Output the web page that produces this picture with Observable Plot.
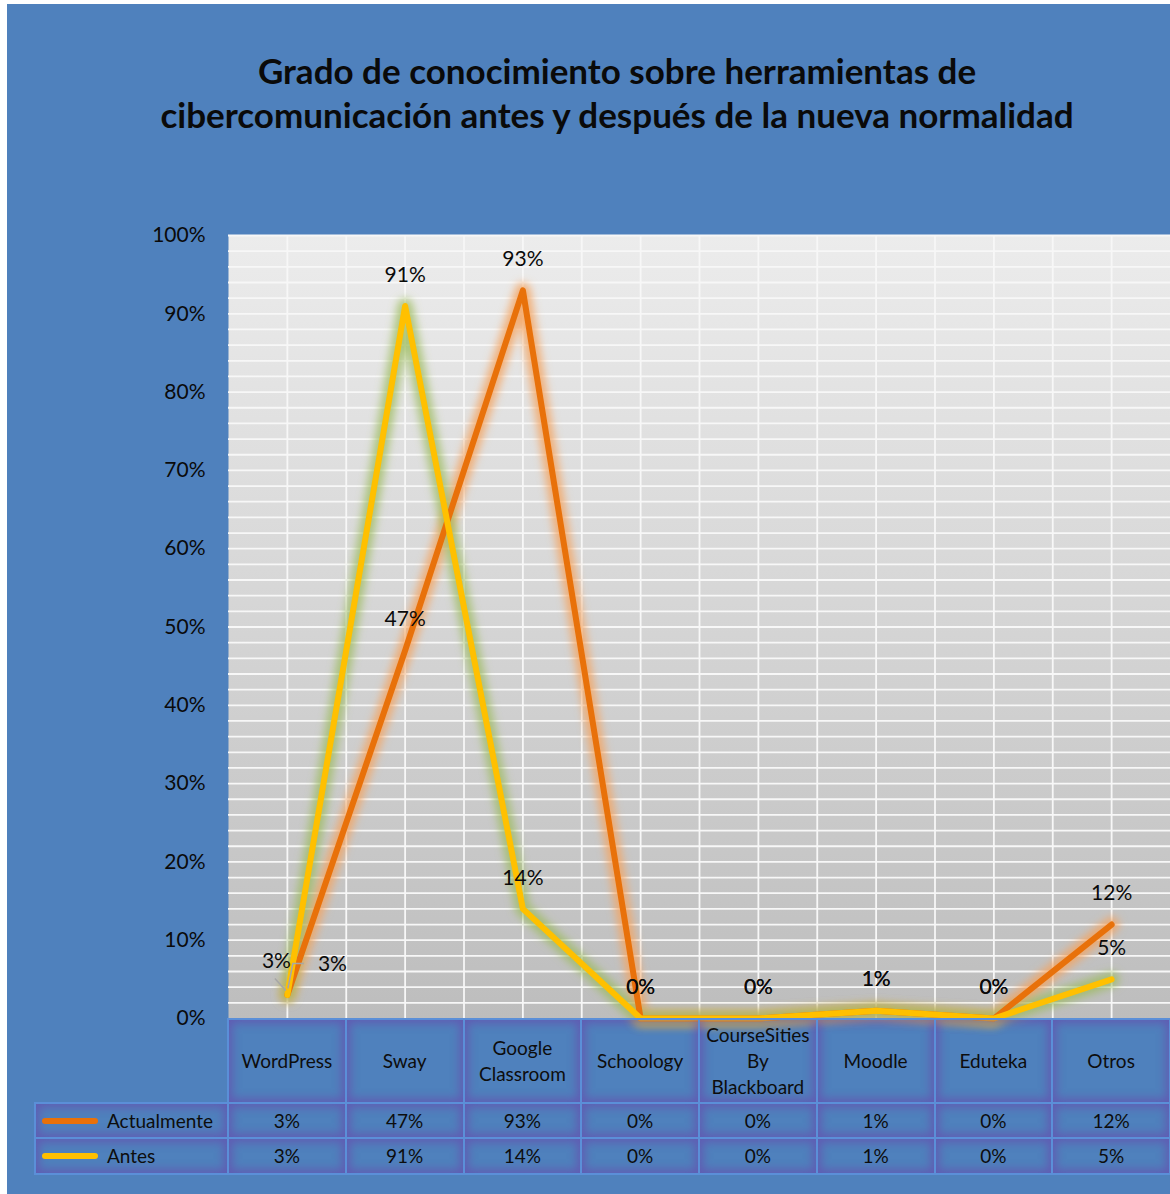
<!DOCTYPE html>
<html>
<head>
<meta charset="utf-8">
<script src="https://cdn.jsdelivr.net/npm/d3@7"></script>
<script src="https://cdn.jsdelivr.net/npm/@observablehq/plot@0.6"></script>
<style>
  body { margin: 0; background: #fff; }
  #page { position: relative; width: 1170px; height: 1194px; overflow: hidden; background: #fff; font-family: Lato, "Open Sans", sans-serif; }
  #bg { position: absolute; left: 7px; top: 4px; right: 0; bottom: 0; background: #4f81bd; }
  #title { position: absolute; left: 0; width: 1234px; top: 48px; text-align: center; font-weight: bold; font-size: 35px; line-height: 44px; color: #0a0a0a; }
  #chart { position: absolute; left: 0; top: 200px; }
  .cell { position: absolute; box-sizing: border-box; border: 2px solid #5b8fd8; box-shadow: inset 0 0 10px 3px rgba(112, 60, 170, 0.55); display: flex; align-items: center; justify-content: center; text-align: center; font-size: 19px; color: #0d0d0d; white-space: pre-line; line-height: 26px; }
  .legend { justify-content: flex-start; padding-left: 6px; }
  .swatch { display: inline-block; width: 56px; height: 6px; border-radius: 3px; margin-right: 9px; }
</style>
</head>
<body>
<div id="page">
  <div id="bg"></div>
  <div id="title">Grado de conocimiento sobre herramientas de<br>cibercomunicación antes y después de la nueva normalidad</div>
  <div id="chart"></div>
  <div id="table"></div>
</div>
<script>
// ---- data ----
const categories = ["WordPress", "Sway", "Google\nClassroom", "Schoology", "CourseSities\nBy\nBlackboard", "Moodle", "Eduteka", "Otros"];
const actualmente = [0.03, 0.47, 0.93, 0, 0, 0.01, 0, 0.12];
const antes = [0.03, 0.91, 0.14, 0, 0, 0.01, 0, 0.05];
const seriesNames = ["Actualmente", "Antes"];
const seriesColors = ["#e8710a", "#ffc000"];
const glowColors = ["#f4a460", "#9bbb59"];
const yTicks = [0, 0.1, 0.2, 0.3, 0.4, 0.5, 0.6, 0.7, 0.8, 0.9, 1.0];

const fmt = d3.format(".0%");
const seriesValues = [actualmente, antes];
const rows = seriesValues.map((vals, s) =>
  vals.map((v, i) => ({i, x: i + 0.5, value: v, series: seriesNames[s], s}))
);

const textStyle = {x: "x", y: "value", text: d => fmt(d.value), fill: "#0a0a0a", fontSize: 21};

const W = 1170, H = 840;
const chart = Plot.plot({
  width: W,
  height: H,
  marginTop: 35,
  marginBottom: 22,
  marginLeft: 228,
  marginRight: 0,
  style: {background: "transparent", overflow: "visible", fontFamily: "Lato, 'Open Sans', sans-serif", fontSize: "21px", color: "#0a0a0a"},
  x: {domain: [0, categories.length], axis: null},
  y: {domain: [0, 1], ticks: yTicks, tickFormat: ".0%", tickSize: 0, tickPadding: 23, label: null},
  marks: [
    Plot.frame({fill: "url(#plotbg)", stroke: "none"}),
    Plot.ruleY(d3.range(0.02, 1.0001, 0.02), {stroke: "#f7f7f7", strokeWidth: 1.8}),
    Plot.ruleX(d3.range(0.5, categories.length, 0.5), {stroke: "#f7f7f7", strokeWidth: 1.8}),
    // glows
    Plot.line(rows[0], {x: "x", y: "value", stroke: glowColors[0], strokeWidth: 15, strokeOpacity: 0.85, strokeLinejoin: "round"}),
    Plot.line(rows[1], {x: "x", y: "value", stroke: glowColors[1], strokeWidth: 15, strokeOpacity: 0.75, strokeLinejoin: "round"}),
    // lines
    Plot.line(rows[0], {x: "x", y: "value", stroke: seriesColors[0], strokeWidth: 6, strokeLinejoin: "round"}),
    Plot.line(rows[1], {x: "x", y: "value", stroke: seriesColors[1], strokeWidth: 6, strokeLinejoin: "round"}),
    // data labels: above the point, WordPress ones pushed aside
    ...rows.map(r => Plot.text(r.filter(d => d.i > 0), {...textStyle, dy: -31})),
    Plot.text(rows[0].filter(d => d.i === 0), {...textStyle, dx: 45, dy: -31}),
    Plot.text(rows[1].filter(d => d.i === 0), {...textStyle, dx: -11, dy: -34})
  ]
});

document.getElementById("chart").appendChild(chart);
const ns = "http://www.w3.org/2000/svg";
const defs = document.createElementNS(ns, "defs");
defs.innerHTML = `
  <linearGradient id="plotbg" x1="0" y1="0" x2="0" y2="1">
    <stop offset="0" stop-color="#ececec"/>
    <stop offset="1" stop-color="#bdbdbd"/>
  </linearGradient>
  <filter id="glow" x="-20%" y="-20%" width="140%" height="140%">
    <feGaussianBlur stdDeviation="4.5"/>
  </filter>`;
chart.insertBefore(defs, chart.firstChild);
const lineGroups = chart.querySelectorAll('g[aria-label="line"]');
lineGroups[0].setAttribute("filter", "url(#glow)");
lineGroups[1].setAttribute("filter", "url(#glow)");

// ---- leader lines (small elbow from each WordPress label to its point), drawn with the chart's scales ----
{
  const xs = chart.scale("x"), ys = chart.scale("y");
  const g = d3.select(chart).append("g").attr("fill", "none").attr("stroke", "#a6a6a6").attr("stroke-width", 1.5);
  const px = xs.apply(rows[0][0].x), py = ys.apply(rows[0][0].value);
  g.append("path").attr("d", `M${px + 17},${py - 31} H${px + 6} L${px + 1},${py - 6}`);
  const qx = xs.apply(rows[1][0].x), qy = ys.apply(rows[1][0].value);
  g.append("path").attr("d", `M${qx - 12},${qy - 16} L${qx - 1},${qy - 4}`);
}

// ---- data table under the plot, aligned with the chart's x scale ----
{
  const xs = chart.scale("x"), ys = chart.scale("y");
  const top = 200 + ys.apply(0) + 1;
  const headerH = 84, rowH = [35, 36];
  const table = document.getElementById("table");
  const cell = (left, topPx, width, height, html, cls = "") => {
    const d = document.createElement("div");
    d.className = "cell " + cls;
    d.style.left = (left - 1) + "px";
    d.style.top = (topPx - 1) + "px";
    d.style.width = (width + 2) + "px";
    d.style.height = (height + 2) + "px";
    d.innerHTML = html;
    table.appendChild(d);
  };
  categories.forEach((c, i) => {
    const x0 = xs.apply(i), x1 = xs.apply(i + 1);
    cell(x0, top, x1 - x0, headerH, c);
  });
  let y = top + headerH;
  seriesValues.forEach((vals, s) => {
    cell(35, y, xs.apply(0) - 35, rowH[s],
      `<span class="swatch" style="background:${seriesColors[s]}"></span>${seriesNames[s]}`, "legend");
    vals.forEach((v, i) => {
      const x0 = xs.apply(i), x1 = xs.apply(i + 1);
      cell(x0, y, x1 - x0, rowH[s], fmt(v));
    });
    y += rowH[s];
  });
}
</script>
</body>
</html>
